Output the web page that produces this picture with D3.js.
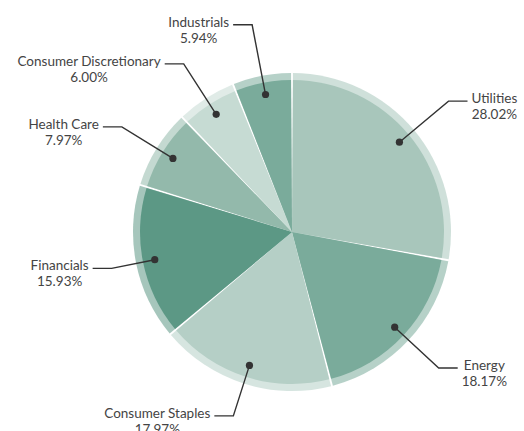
<!DOCTYPE html>
<html>
<head>
<meta charset="utf-8">
<script src="https://cdn.jsdelivr.net/npm/d3@7"></script>
<style>
  body { margin: 0; background: #fff; }
  text { font-family: Lato, "Open Sans", sans-serif; font-size: 13.5px; fill: #444; }
</style>
</head>
<body>
<svg id="chart" width="524" height="431"></svg>
<script>
const sectors = ['Utilities', 'Energy', 'Consumer Staples', 'Financials', 'Health Care', 'Consumer Discretionary', 'Industrials'];
const weights = [28.02, 18.17, 17.97, 15.93, 7.97, 6.00, 5.94];
const colors = ['#a8c6bb', '#7aab9b', '#b5cfc6', '#5c9885', '#93b9ab', '#c6dbd3', '#7aab9b'];

// how far out the leader line bends, per label (default 200)
const elbowRadius = { 'Industrials': 211, 'Financials': 184, 'Consumer Staples': 193, 'Utilities': 204 };

const cx = 292;
const cy = 232;
const outerR = 159;
const innerR = 152;
const dotR = 140;

const svg = d3.select('#chart');
const g = svg.append('g').attr('transform', `translate(${cx},${cy})`);

const data = sectors.map((name, i) => ({ name: name, value: weights[i], color: colors[i] }));

const pie = d3.pie()
  .sort(null)
  .value((d) => d.value)
  .padAngle(0.012);

const arcs = pie(data);

const ringArc = d3.arc().innerRadius(0).outerRadius(outerR).padRadius(outerR);
const fillArc = d3.arc().innerRadius(0).outerRadius(innerR).padRadius(outerR);

g.selectAll('path.ring')
  .data(arcs)
  .enter()
  .append('path')
  .attr('class', 'ring')
  .attr('d', ringArc)
  .attr('fill', (d) => d.data.color)
  .attr('fill-opacity', 0.55);

g.selectAll('path.slice')
  .data(arcs)
  .enter()
  .append('path')
  .attr('class', 'slice')
  .attr('d', fillArc)
  .attr('fill', (d) => d.data.color);

const polar = (angle, r) => [Math.sin(angle) * r, -Math.cos(angle) * r];

arcs.forEach((d) => {
  const mid = (d.startAngle + d.endAngle) / 2;
  const dot = polar(mid, dotR);
  const elbow = polar(mid, elbowRadius[d.data.name] || 200);
  const right = elbow[0] > 0;
  const endX = elbow[0] + (right ? 19 : -19);

  g.append('polyline')
    .attr('points', [dot, elbow, [endX, elbow[1]]].map((p) => p.join(',')).join(' '))
    .attr('fill', 'none')
    .attr('stroke', '#333')
    .attr('stroke-width', 1.4);

  g.append('circle')
    .attr('cx', dot[0])
    .attr('cy', dot[1])
    .attr('r', 3.6)
    .attr('fill', '#333');

  const label = g.append('text')
    .attr('text-anchor', 'middle');
  label.append('tspan').attr('x', 0).attr('y', elbow[1] + 2).text(d.data.name);
  label.append('tspan').attr('x', 0).attr('y', elbow[1] + 18).text(d.data.value.toFixed(2) + '%');

  const w = d3.max(label.selectAll('tspan').nodes(), (n) => n.getComputedTextLength());
  const tx = right ? endX + 4 + w / 2 : endX - 4 - w / 2;
  label.selectAll('tspan').attr('x', tx);
});
</script>
</body>
</html>
